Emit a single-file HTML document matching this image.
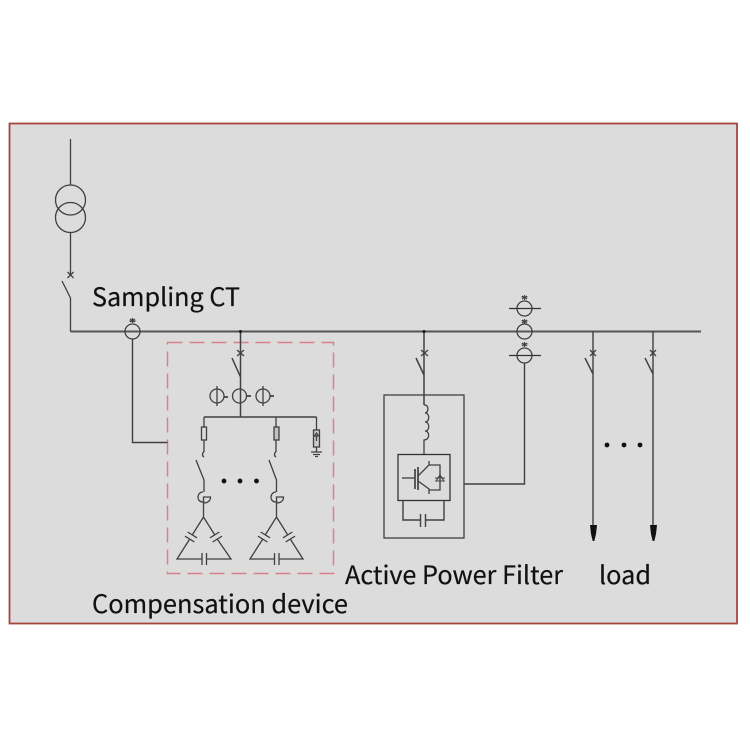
<!DOCTYPE html>
<html><head><meta charset="utf-8"><style>
html,body{margin:0;padding:0;background:#fff}
svg{display:block}
text{font-family:"Noto Sans CJK SC","Liberation Sans",sans-serif;font-size:25px;fill:#111;stroke:#111;stroke-width:.2px}
</style></head><body>
<svg width="750" height="750" viewBox="0 0 750 750" xmlns="http://www.w3.org/2000/svg">
<rect x="0" y="0" width="750" height="750" fill="#fff"/>
<rect x="9.5" y="123.500" width="727.500" height="500" fill="#dcdcdc" stroke="#a84440" stroke-width="1.800"/>
<rect x="167.500" y="342.500" width="166" height="231" fill="none" stroke="#d9808c" stroke-width="1.500" stroke-dasharray="15 7"/>

<g fill="none" stroke="#404040" stroke-width="1.300">
<!-- main bus -->
<path d="M70.500 331.500H701" stroke="#555" stroke-width="2"/>
<!-- incoming -->
<path d="M70.500 139V185M70.500 232V276"/>
<circle cx="70.500" cy="200" r="15"/><circle cx="70.500" cy="217.500" r="15"/>
<path d="M67.500 272l6 6M73.500 272l-6 6"/>
<path d="M62 281L70.500 298V331.500"/>
<!-- CT -->
<circle cx="132.500" cy="331.500" r="7.500"/>
<path d="M132.500 339V442.500H167.500" stroke-width="1.400"/>
<path d="M129.500 321h6M132.500 318v5M130 319l5 3M130 322l5-3" stroke-width="1.200"/>
<!-- compensation branch -->
<path d="M240.500 331.500V377L232 358" stroke-width="1.500"/>
<path d="M237 350l7 6M244 350l-7 6"/>
<path d="M240.500 377V417" stroke-width="1.500"/>
<circle cx="217" cy="396" r="7"/><circle cx="239.500" cy="396" r="7"/><circle cx="263" cy="396" r="7"/>
<path d="M217 386V406M263 386V406"/>
<path d="M224 397h4M247 396h4M270 396h4" stroke-width="1.800"/>
<path d="M204 417H316.500" stroke-width="1.500"/>
<path d="M204 417V452M276 417V452M316.500 417V452"/>
<rect x="201.500" y="427" width="5" height="13" fill="#dcdcdc"/>
<rect x="274" y="427" width="5" height="13" fill="#c0c0c0"/>
<rect x="313.500" y="430" width="6" height="17" fill="#cccccc"/>
<path d="M316.500 433l-2 3h4zM316.500 436v5M311 452h11M313 454.500h7M315 456.500h3"/>
<path d="M204 452c-2 1-2 4 0 5M276 452c-2 1-2 4 0 5"/>
<!-- left capacitor bank -->
<path d="M196 460L204 480V492"/>
<path d="M203 492c-6 0-7 9 -1 10c2 0 2 -1 2 -1"/>
<path d="M203.500 497h7c0 4-3 6-7 6zM203.500 497V517"/>
<path d="M203.500 517L192.300 534.900M189.700 539.100L177 559H201.500M206.500 559H231L217.300 539.100M214.700 534.900L203.500 517"/>
<path d="M187.600 532L197 537.800M185 536.200L194.400 542M210 537.800L219.400 532M212.600 542L222 536.200M202 553v12M206.500 553v12"/>
<!-- right capacitor bank -->
<path d="M269 460L276.500 480V492"/>
<path d="M276 492c-6 0-7 9 -1 10c2 0 2 -1 2 -1"/>
<path d="M276.500 497h7c0 4-3 6-7 6zM276.500 497V517"/>
<path d="M276.500 517L265.300 534.900M262.700 539.100L250 559H274.500M279 559H303L290.300 539.100M287.700 534.900L276.500 517"/>
<path d="M260.600 532L270 537.800M258 536.200L267.400 542M283 537.800L292.400 532M285.600 542L295 536.200M274.500 553v12M279 553v12"/>
<!-- APF branch -->
<path d="M424 331.500V375L416 358" stroke-width="1.500"/>
<path d="M421 350l7 6M428 350l-7 6"/>
<path d="M424 375V405" stroke-width="1.500"/>
<rect x="384" y="395" width="80" height="143"/>
<path d="M424 405c5-1 5 8 1 8c5 0 5 9 0 9c5 0 5 9 0 9c5 0 5 9-1 9V454"/>
<rect x="398" y="454.500" width="52" height="46" stroke="#333"/>
<path d="M402 478h12"/>
<path d="M415 469V489" stroke-width="1.700"/>
<path d="M418 467V490" stroke-width="1.700"/>
<path d="M418 476L429 465V461M429 465H440V490H429M418 481L429 489V494"/>
<path d="M435 478h10M440 471v6M436 481h8l-4-6z" stroke-width="1.100"/>
<path d="M403 500.500V520H420M426 520H444V500.500" stroke-width="1.400"/>
<path d="M420.500 514v13M425.500 514v13" stroke-width="1.400"/>
<!-- CTs on the right -->
<circle cx="524.500" cy="308.500" r="7.500"/><circle cx="524.500" cy="331.500" r="7.500"/><circle cx="524.500" cy="355.500" r="7.500"/>
<path d="M509 308.500H541M509 355.500H541" stroke="#333"/>
<path d="M524.500 363V484H464" stroke-width="1.400"/>
<path d="M521.500 297h6M524.500 295v5M522 296l5 3M522 299l5-3M521.500 321h6M524.500 319v5M522 320l5 3M522 323l5-3M521.500 344h6M524.500 342v5M522 343l5 3M522 346l5-3" stroke-width="1.100"/>
<!-- loads -->
<path d="M593 331.500V374L585 358M593 374V525" stroke-width="1.400"/>
<path d="M653 331.500V374L645 358M653 374V525" stroke-width="1.400"/>
<path d="M590 350l6 6M596 350l-6 6M650 350l6 6M656 350l-6 6"/>
</g>
<g fill="#111">
<circle cx="240.500" cy="331.500" r="1.500"/><circle cx="424" cy="331.500" r="1.500"/>
<circle cx="224" cy="481" r="2.400"/><circle cx="240" cy="481" r="2.400"/><circle cx="256.500" cy="481" r="2.400"/>
<circle cx="607" cy="445" r="2.400"/><circle cx="624" cy="445" r="2.400"/><circle cx="640" cy="445" r="2.400"/>
<path d="M590 525H597L596 534L594.300 541H592.700L591 534Z"/>
<path d="M650 525H657L656 534L654.300 541H652.700L651 534Z"/>
</g>
<text x="92" y="306" textLength="148" lengthAdjust="spacingAndGlyphs">Sampling CT</text>
<text x="345" y="584" textLength="218" lengthAdjust="spacingAndGlyphs">Active Power Filter</text>
<text x="599" y="584" textLength="52" lengthAdjust="spacingAndGlyphs">load</text>
<text x="92" y="613" textLength="256" lengthAdjust="spacingAndGlyphs">Compensation device</text>
</svg>
</body></html>
